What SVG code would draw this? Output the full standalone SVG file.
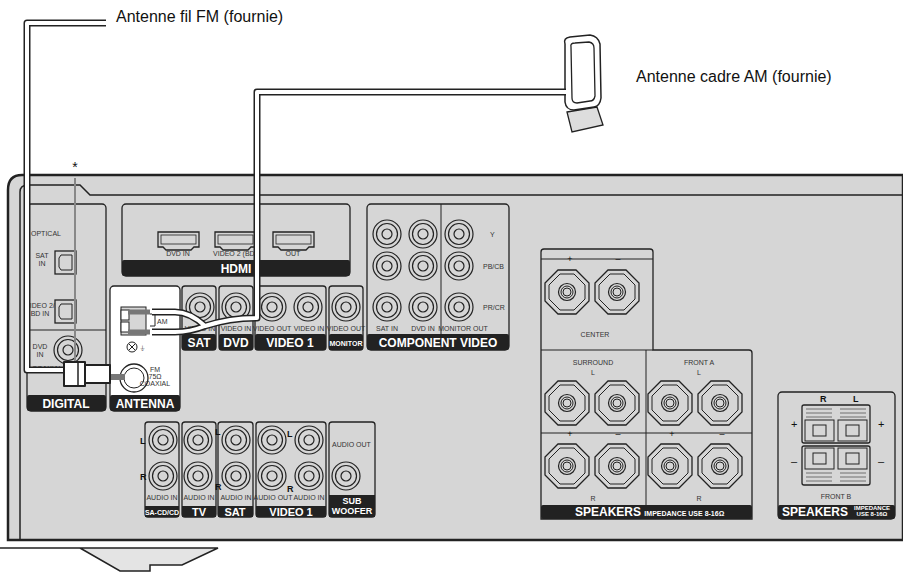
<svg xmlns="http://www.w3.org/2000/svg" width="903" height="587" viewBox="0 0 903 587">
<style>
.t{font-family:"Liberation Sans",Arial,sans-serif;fill:#111}
.s{font-family:"Liberation Sans",Arial,sans-serif;fill:#333;font-size:7px}
.b{font-family:"Liberation Sans",Arial,sans-serif;fill:#fff;font-weight:bold;text-anchor:middle}
.p{fill:#d6d6d6;stroke:#222;stroke-width:1.3}
.band{fill:#222}
.j{fill:#d6d6d6;stroke:#222;stroke-width:1.2}
.oct{fill:#d6d6d6;stroke:#222;stroke-width:1.3}
</style>
<defs>
<g id="rca"><circle r="14" class="j"/><circle r="10.5" class="j"/><circle r="5" class="j"/></g>
<g id="spk"><polygon points="-9,-22 9,-22 22,-9 22,9 9,22 -9,22 -22,9 -22,-9" class="oct"/><polygon points="-7,-18 7,-18 18,-7 18,7 7,18 -7,18 -18,7 -18,-7" fill="none" stroke="#222"/><circle r="8.5" class="j"/><circle r="6" fill="none" stroke="#222"/><circle r="4" fill="#d6d6d6" stroke="#222"/></g>
<g id="hdmi"><path d="M0,0h41v15h-5l-3,3h-25l-3,-3h-5z" fill="#d6d6d6" stroke="#222" stroke-width="1.3"/><rect x="3" y="3" width="35" height="9" fill="none" stroke="#222" stroke-width="0.8"/></g>
<g id="opt"><rect width="21" height="23" fill="#d6d6d6" stroke="#222" stroke-width="1.3"/><path d="M6,4h11v15h-11l-2,-3v-9z" fill="none" stroke="#222"/></g>
</defs>
<rect width="903" height="587" fill="#fff"/>
<g id="chassis">
<path d="M0,548 H218 L182,565 H150 V571 H120 L80,548" fill="#e4e4e4" stroke="#222" stroke-width="1.5"/>
<path d="M903,175 H22 Q8,175 8,190 V540 H903 Z" fill="#d6d6d6" stroke="#222" stroke-width="2.5"/>
<path d="M20,540 V192 Q20,185 28,185 H80 L90,195 H903" fill="none" stroke="#222" stroke-width="1.5"/>
</g>
<g id="digital">
<rect x="27" y="204" width="79" height="207" rx="4" class="p"/>
<line x1="27" y1="330" x2="106" y2="330" stroke="#222"/>
<rect x="27" y="395" width="79" height="16" rx="2" class="band"/>
<text x="66" y="408" class="b" font-size="12">DIGITAL</text>
<text x="31" y="236" class="s" font-size="8">OPTICAL</text>
<text x="42" y="258" class="s" text-anchor="middle">SAT</text><text x="42" y="266" class="s" text-anchor="middle">IN</text>
<use href="#opt" x="55" y="251"/>
<text x="40" y="308" class="s" text-anchor="middle">VIDEO 2/</text><text x="40" y="316" class="s" text-anchor="middle">BD IN</text>
<use href="#opt" x="55" y="300"/>
<text x="40" y="349" class="s" text-anchor="middle">DVD</text><text x="40" y="357" class="s" text-anchor="middle">IN</text>
<use href="#rca" x="68" y="350"/>
<text x="32" y="371" class="s">COAXIAL</text>
</g>
<g id="antenna">
<rect x="110" y="286" width="70" height="125" rx="4" fill="#fff" stroke="#222" stroke-width="1.3"/>
<rect x="110" y="395" width="70" height="16" rx="2" class="band"/>
<text x="145" y="408" class="b" font-size="12">ANTENNA</text>
<rect x="121" y="307" width="25" height="28" fill="#d6d6d6" stroke="#222"/>
<rect x="121" y="310" width="8" height="10" fill="#fff" stroke="#222"/><rect x="121" y="322" width="8" height="10" fill="#fff" stroke="#222"/>
<path d="M150,314 h5 v12 h-5" fill="none" stroke="#222"/>
<text x="157" y="324" class="s" font-size="8">AM</text>
<circle cx="132" cy="347" r="5" fill="#fff" stroke="#222"/><path d="M129,344l6,6M135,344l-6,6" stroke="#222"/>
<text x="140" y="351" class="s">⏚</text>
<circle cx="134" cy="378" r="14" fill="#fff" stroke="#222" stroke-width="1.3"/><circle cx="134" cy="378" r="10" fill="#fff" stroke="#222"/>
<text x="155" y="372" class="s" text-anchor="middle">FM</text><text x="155" y="379" class="s" text-anchor="middle">75Ω</text><text x="155" y="386" class="s" text-anchor="middle">COAXIAL</text>
</g>
<g id="hdmi-panel">
<rect x="122" y="204" width="228" height="72" rx="4" class="p"/>
<rect x="122" y="260" width="228" height="16" rx="2" class="band"/>
<text x="236" y="273" class="b" font-size="12">HDMI</text>
<use href="#hdmi" x="158" y="232"/><use href="#hdmi" x="215" y="232"/><use href="#hdmi" x="273" y="232"/>
<text x="178" y="256" class="s" text-anchor="middle">DVD IN</text>
<text x="235" y="256" class="s" text-anchor="middle">VIDEO 2 (BD)</text>
<text x="293" y="256" class="s" text-anchor="middle">OUT</text>
</g>
<g id="video">
<rect x="182" y="286" width="34" height="64" rx="3" class="p"/>
<rect x="219" y="286" width="34" height="64" rx="3" class="p"/>
<rect x="255" y="286" width="71" height="64" rx="3" class="p"/>
<rect x="329" y="286" width="34" height="64" rx="3" class="p"/>
<rect x="182" y="334" width="34" height="16" rx="2" class="band"/><rect x="219" y="334" width="34" height="16" rx="2" class="band"/>
<rect x="255" y="334" width="71" height="16" rx="2" class="band"/><rect x="329" y="334" width="34" height="16" rx="2" class="band"/>
<text x="199" y="347" class="b" font-size="12">SAT</text><text x="236" y="347" class="b" font-size="12">DVD</text>
<text x="290" y="347" class="b" font-size="12">VIDEO 1</text><text x="346" y="346" class="b" font-size="7">MONITOR</text>
<use href="#rca" x="200" y="307"/><use href="#rca" x="236" y="307"/><use href="#rca" x="272" y="307"/><use href="#rca" x="308" y="307"/><use href="#rca" x="346" y="307"/>
<text x="200" y="331" class="s" text-anchor="middle">VIDEO IN</text><text x="236" y="331" class="s" text-anchor="middle">VIDEO IN</text>
<text x="272" y="331" class="s" text-anchor="middle">VIDEO OUT</text><text x="309" y="331" class="s" text-anchor="middle">VIDEO IN</text>
<text x="346" y="331" class="s" text-anchor="middle">VIDEO OUT</text>
</g>
<g id="component">
<rect x="367" y="204" width="142" height="146" rx="4" class="p"/>
<line x1="441" y1="204" x2="441" y2="334" stroke="#222"/>
<rect x="367" y="334" width="142" height="16" rx="2" class="band"/>
<text x="438" y="347" class="b" font-size="12">COMPONENT VIDEO</text>
<use href="#rca" x="387" y="234"/><use href="#rca" x="423" y="234"/><use href="#rca" x="459" y="234"/>
<use href="#rca" x="387" y="266"/><use href="#rca" x="423" y="266"/><use href="#rca" x="459" y="266"/>
<use href="#rca" x="387" y="307"/><use href="#rca" x="423" y="307"/><use href="#rca" x="459" y="307"/>
<text x="490" y="237" class="s">Y</text><text x="483" y="269" class="s">PB/CB</text><text x="483" y="310" class="s">PR/CR</text>
<text x="387" y="331" class="s" text-anchor="middle">SAT IN</text><text x="423" y="331" class="s" text-anchor="middle">DVD IN</text><text x="463" y="331" class="s" text-anchor="middle">MONITOR OUT</text>
</g>
<g id="audio">
<rect x="145" y="422" width="34" height="95" rx="3" class="p"/>
<rect x="182" y="422" width="34" height="95" rx="3" class="p"/>
<rect x="218" y="422" width="35" height="95" rx="3" class="p"/>
<rect x="256" y="422" width="70" height="95" rx="3" class="p"/>
<rect x="329" y="422" width="46" height="95" rx="3" class="p"/>
<rect x="145" y="506" width="34" height="11" class="band"/><rect x="182" y="506" width="34" height="11" class="band"/>
<rect x="218" y="506" width="35" height="11" class="band"/><rect x="256" y="506" width="70" height="11" class="band"/>
<rect x="329" y="495" width="46" height="22" class="band"/>
<text x="162" y="515" class="b" font-size="7">SA-CD/CD</text><text x="199" y="516" class="b" font-size="11">TV</text>
<text x="235" y="516" class="b" font-size="11">SAT</text><text x="291" y="516" class="b" font-size="11">VIDEO 1</text>
<text x="352" y="504" class="b" font-size="9">SUB</text><text x="352" y="514" class="b" font-size="9">WOOFER</text>
<use href="#rca" x="163" y="440"/><use href="#rca" x="198" y="440"/><use href="#rca" x="236" y="440"/><use href="#rca" x="272" y="440"/><use href="#rca" x="309" y="440"/>
<use href="#rca" x="163" y="476"/><use href="#rca" x="198" y="476"/><use href="#rca" x="236" y="476"/><use href="#rca" x="272" y="476"/><use href="#rca" x="309" y="476"/><use href="#rca" x="346" y="476"/>
<text x="140" y="444" class="t" font-size="9" font-weight="bold">L</text><text x="140" y="480" class="t" font-size="9" font-weight="bold">R</text>
<text x="215" y="435" class="t" font-size="9" font-weight="bold">L</text><text x="215" y="490" class="t" font-size="9" font-weight="bold">R</text>
<text x="287" y="437" class="t" font-size="9" font-weight="bold">L</text><text x="287" y="492" class="t" font-size="9" font-weight="bold">R</text>
<text x="162" y="500" class="s" text-anchor="middle">AUDIO IN</text><text x="199" y="500" class="s" text-anchor="middle">AUDIO IN</text>
<text x="236" y="500" class="s" text-anchor="middle">AUDIO IN</text><text x="273" y="500" class="s" text-anchor="middle">AUDIO OUT</text>
<text x="309" y="500" class="s" text-anchor="middle">AUDIO IN</text><text x="332" y="447" class="s">AUDIO OUT</text>
</g>
<g id="speakers">
<path d="M541,519 V252 Q541,249 544,249 H650 Q653,249 653,252 V350 H749 Q752,350 752,353 V519 Z" class="p"/>
<line x1="541" y1="259" x2="653" y2="259" stroke="#222"/>
<line x1="541" y1="350" x2="653" y2="350" stroke="#222"/>
<line x1="646" y1="350" x2="646" y2="505" stroke="#222"/>
<line x1="541" y1="433" x2="752" y2="433" stroke="#222"/>
<rect x="541" y="505" width="211" height="14" rx="2" class="band"/>
<text x="575" y="516" class="b" font-size="12" text-anchor="start" style="text-anchor:start">SPEAKERS <tspan font-size="7">IMPEDANCE USE 8-16Ω</tspan></text>
<text x="570" y="262" class="t" font-size="9" text-anchor="middle">+</text><text x="618" y="262" class="t" font-size="9" text-anchor="middle">–</text>
<use href="#spk" x="567" y="292"/><use href="#spk" x="617" y="292"/>
<text x="595" y="337" class="s" font-size="9" text-anchor="middle">CENTER</text>
<text x="593" y="365" class="s" font-size="9" text-anchor="middle">SURROUND</text><text x="593" y="375" class="s" font-size="9" text-anchor="middle">L</text>
<text x="699" y="365" class="s" font-size="9" text-anchor="middle">FRONT A</text><text x="699" y="375" class="s" font-size="9" text-anchor="middle">L</text>
<use href="#spk" x="567" y="403"/><use href="#spk" x="617" y="403"/><use href="#spk" x="670" y="403"/><use href="#spk" x="720" y="403"/>
<text x="570" y="437" class="t" font-size="9" text-anchor="middle">+</text><text x="618" y="437" class="t" font-size="9" text-anchor="middle">–</text>
<text x="672" y="437" class="t" font-size="9" text-anchor="middle">+</text><text x="722" y="437" class="t" font-size="9" text-anchor="middle">–</text>
<use href="#spk" x="567" y="466"/><use href="#spk" x="617" y="466"/><use href="#spk" x="670" y="466"/><use href="#spk" x="720" y="466"/>
<text x="593" y="501" class="s" font-size="9" text-anchor="middle">R</text><text x="699" y="501" class="s" font-size="9" text-anchor="middle">R</text>
</g>
<g id="frontb">
<rect x="778" y="392" width="117" height="127" rx="4" class="p"/>
<rect x="778" y="505" width="117" height="14" rx="2" class="band"/>
<text x="815" y="516" class="b" font-size="12">SPEAKERS</text>
<text x="872" y="510" class="b" font-size="6">IMPEDANCE</text><text x="872" y="516" class="b" font-size="6">USE 8-16Ω</text>
<text x="820" y="402" class="t" font-size="9" font-weight="bold">R</text><text x="853" y="402" class="t" font-size="9" font-weight="bold">L</text>
<text x="791" y="428" class="t" font-size="11">+</text><text x="878" y="428" class="t" font-size="11">+</text>
<text x="791" y="465" class="t" font-size="11">–</text><text x="878" y="465" class="t" font-size="11">–</text>
<rect x="802" y="405" width="68" height="38" rx="2" fill="#d6d6d6" stroke="#222" stroke-width="1.3"/>
<rect x="802" y="446" width="68" height="39" rx="2" fill="#d6d6d6" stroke="#222" stroke-width="1.3"/>
<rect x="805" y="420" width="29" height="21" fill="none" stroke="#222"/><rect x="838" y="420" width="29" height="21" fill="none" stroke="#222"/>
<rect x="813" y="425" width="13" height="11" fill="none" stroke="#222"/><rect x="846" y="425" width="13" height="11" fill="none" stroke="#222"/>
<rect x="805" y="448" width="29" height="21" fill="none" stroke="#222"/><rect x="838" y="448" width="29" height="21" fill="none" stroke="#222"/>
<rect x="813" y="453" width="13" height="11" fill="none" stroke="#222"/><rect x="846" y="453" width="13" height="11" fill="none" stroke="#222"/>
<path d="M806,409h26M806,413h26M806,417h26M840,409h26M840,413h26M840,417h26M806,473h26M806,477h26M806,481h26M840,473h26M840,477h26M840,481h26" stroke="#555" stroke-width="0.8"/>
<text x="836" y="499" class="s" font-size="9" text-anchor="middle">FRONT B</text>
</g>
<g id="am-antenna">
<path d="M567,112 L597,107 L603,125 L572,132 Z" fill="#ddd" stroke="#222" stroke-width="1.3"/>
<path d="M565,44 Q563,38 570,37 L590,35 Q598,36 600,44 L601,98 Q600,106 594,107 L574,110 Q566,110 565,102 Z" fill="#fff" stroke="#222" stroke-width="1.5"/>
<path d="M571,47 Q570,43 575,43 L589,42 Q594,43 594,48 L595,96 Q594,101 590,101 L577,103 Q572,103 572,98 Z" fill="#fff" stroke="#222" stroke-width="1.3"/>
</g>
<g id="connectors" fill="none" stroke-linejoin="round">
<path d="M106,23 H27 V370 H70" stroke="#222" stroke-width="7"/>
<path d="M106,23 H27 V370 H70" stroke="#fff" stroke-width="4"/>
<path d="M566,92 H257 V318 Q230,318 205,326 Q190,332 175,332 H152 M205,326 Q190,312 175,312 H152" stroke="#222" stroke-width="7"/>
<path d="M566,92 H257 V318 Q230,318 205,326 Q190,332 175,332 H152 M205,326 Q190,312 175,312 H152" stroke="#fff" stroke-width="4"/>
<path d="M150,312 H128 M150,332 H128" stroke="#777" stroke-width="5"/>
<line x1="75" y1="178" x2="75" y2="378" stroke="#888" stroke-width="2"/>
<line x1="110" y1="377" x2="125" y2="377" stroke="#777" stroke-width="6"/>
<rect x="64" y="362" width="21" height="24" fill="#fff" stroke="#222" stroke-width="2"/>
<line x1="78" y1="362" x2="78" y2="386" stroke="#222" stroke-width="1.5"/>
<rect x="85" y="365" width="25" height="18" fill="#fff" stroke="#222" stroke-width="2"/>
</g>
<g id="labels">
<text x="116" y="22" class="t" font-size="16">Antenne fil FM (fournie)</text>
<text x="636" y="82" class="t" font-size="16">Antenne cadre AM (fournie)</text>
<text x="75" y="172" class="t" font-size="14" text-anchor="middle">*</text>
</g>
</svg>
